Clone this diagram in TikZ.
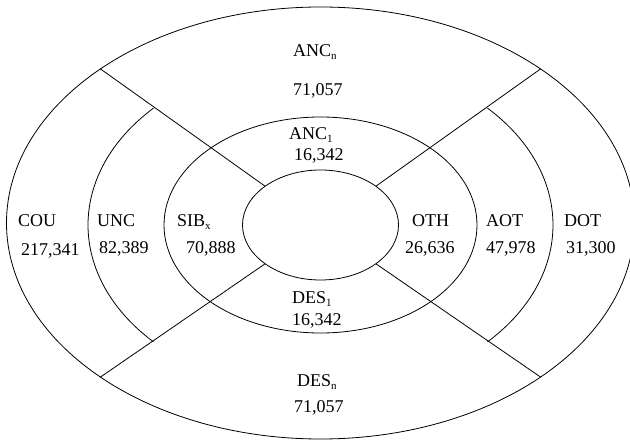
\documentclass[tikz,border=0pt]{standalone}
\usepackage{fontspec}
\setmainfont{Liberation Serif}
\usetikzlibrary{shapes.geometric}
\newcommand{\sbs}[1]{\raisebox{-3pt}{\fontsize{11}{11}\selectfont #1}}
\begin{document}
\begin{tikzpicture}[x=1pt,y=1pt,
  ring/.style={ellipse, inner sep=0pt, outer sep=0pt, line width=0.8pt},
  lbl/.style={anchor=base west, inner sep=0pt, font=\fontsize{18}{18}\selectfont},
  edge/.style={line width=0.8pt}]
\useasboundingbox (0,0) rectangle (630,-441);
\clip (0,0) rectangle (630,-441);
\fill[white] (0,0) rectangle (630,-441);
% rings
\node[ring, draw, minimum width=628pt, minimum height=432pt] (outer) at (320.5,-223) {};
\node[ring, minimum width=465pt, minimum height=336pt] (mid) at (320.5,-225) {};
\node[ring, draw, minimum width=313pt, minimum height=216pt] (inner) at (320.5,-225) {};
\node[ring, draw, minimum width=156pt, minimum height=110pt] (core) at (320.5,-225) {};
% diagonals
\draw[edge] (core.145) -- (outer.145);
\draw[edge] (core.35) -- (outer.35);
\draw[edge] (core.215) -- (outer.215);
\draw[edge] (core.325) -- (outer.325);
% middle ring arcs
\draw[edge] (mid.145) arc[start angle=135.9, end angle=224.1, x radius=232.5pt, y radius=168pt];
\draw[edge] (mid.325) arc[start angle=-44.1, end angle=44.1, x radius=232.5pt, y radius=168pt];
% labels
\node[lbl] (ancn) at (293,-57) {ANC\sbs{n}};
\node[lbl] (ancnv) at (293,-96) {71,057};
\node[lbl] (anc1) at (289,-140) {ANC\sbs{1}};
\node[lbl] (anc1v) at (294,-161) {16,342};
\node[lbl] (cou) at (18,-226) {COU};
\node[lbl] (couv) at (21,-255) {217,341};
\node[lbl] (unc) at (97,-226) {UNC};
\node[lbl] (uncv) at (99,-254) {82,389};
\node[lbl] (sib) at (177,-226) {SIB\sbs{x}};
\node[lbl] (sibv) at (186,-254) {70,888};
\node[lbl] (oth) at (412,-226) {OTH};
\node[lbl] (othv) at (405,-254) {26,636};
\node[lbl] (aot) at (486,-226) {AOT};
\node[lbl] (aotv) at (486,-254) {47,978};
\node[lbl] (dot) at (564,-226) {DOT};
\node[lbl] (dotv) at (566,-254) {31,300};
\node[lbl] (des1) at (292,-303) {DES\sbs{1}};
\node[lbl] (des1v) at (292,-325) {16,342};
\node[lbl] (desn) at (297,-386) {DES\sbs{n}};
\node[lbl] (desnv) at (294,-412) {71,057};
\end{tikzpicture}
\end{document}
